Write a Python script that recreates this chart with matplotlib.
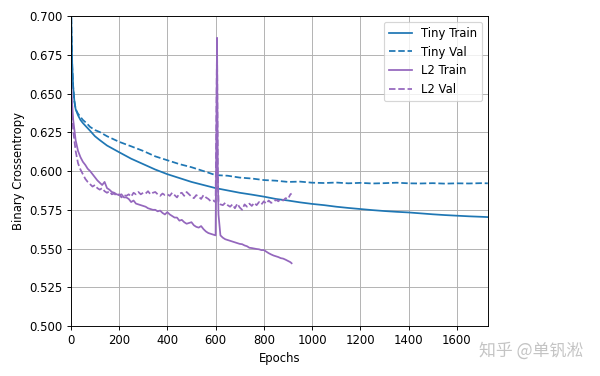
"""Tiny vs L2-regularised model: binary crossentropy over training epochs."""

import matplotlib

matplotlib.use("Agg")
import matplotlib.pyplot as plt  # noqa: E402

# Tiny model (blue)
tiny_epochs = [0, 3, 6, 10, 15, 20, 30, 40, 50, 65, 80, 100, 120, 150, 200, 250,
               300, 350, 400, 450, 500, 550, 600, 650, 700, 750, 800, 850, 900,
               950, 1000, 1050, 1100, 1150, 1200, 1250, 1300, 1350, 1400, 1450,
               1500, 1550, 1600, 1650, 1700, 1728]
tiny_train = [0.720, 0.690, 0.668, 0.654, 0.645, 0.640, 0.636, 0.633, 0.631, 0.6285,
              0.626, 0.6225, 0.620, 0.6165, 0.6122, 0.608, 0.6045, 0.601, 0.598,
              0.5955, 0.593, 0.591, 0.589, 0.5875, 0.586, 0.5848, 0.5835, 0.582,
              0.581, 0.5798, 0.5788, 0.578, 0.577, 0.5762, 0.5755, 0.5748, 0.5742,
              0.5737, 0.5733, 0.5727, 0.5721, 0.5716, 0.5712, 0.5708, 0.5705, 0.5703]
tiny_val = [0.720, 0.690, 0.668, 0.654, 0.645, 0.640, 0.637, 0.635, 0.633, 0.631,
            0.6285, 0.6265, 0.6252, 0.6225, 0.6189, 0.616, 0.613, 0.6095, 0.607,
            0.6045, 0.6025, 0.600, 0.5974, 0.597, 0.5958, 0.5952, 0.5942, 0.5938,
            0.593, 0.5932, 0.5925, 0.5923, 0.5926, 0.5921, 0.5924, 0.592, 0.5922,
            0.5925, 0.5921, 0.592, 0.5922, 0.5919, 0.5921, 0.592, 0.5922, 0.5921]

# L2 model (purple)
l2_epochs = [0, 5, 10, 20, 30, 40, 50, 60, 70, 80, 90, 100, 110, 120, 130, 140,
             150, 160, 170, 180, 190, 200, 210, 220, 230, 240, 250, 260, 270, 280,
             290, 300, 310, 320, 330, 340, 350, 360, 370, 380, 390, 400, 410, 420,
             430, 440, 450, 460, 470, 480, 490, 500, 510, 520, 530, 540, 550, 560,
             570, 580, 590, 600, 603, 606, 609, 612, 620, 630, 640, 650, 660, 670,
             680, 690, 700, 710, 720, 730, 740, 750, 760, 770, 780, 790, 800, 810,
             820, 830, 840, 850, 860, 870, 880, 890, 900, 910, 915]
l2_train = [0.662, 0.645, 0.633, 0.620, 0.613, 0.609, 0.606, 0.604, 0.6015, 0.600,
            0.598, 0.596, 0.594, 0.5925, 0.591, 0.593, 0.589, 0.588, 0.5865, 0.586,
            0.585, 0.5845, 0.585, 0.583, 0.583, 0.582, 0.580, 0.581, 0.579, 0.5785,
            0.578, 0.5775, 0.577, 0.576, 0.5755, 0.575, 0.575, 0.574, 0.5745, 0.573,
            0.572, 0.5735, 0.572, 0.571, 0.570, 0.570, 0.568, 0.5685, 0.567, 0.566,
            0.5665, 0.567, 0.565, 0.564, 0.5635, 0.5645, 0.5625, 0.561, 0.560,
            0.5595, 0.559, 0.5585, 0.620, 0.686, 0.600, 0.572, 0.5585, 0.557, 0.556,
            0.5555, 0.555, 0.5545, 0.554, 0.5535, 0.553, 0.5528, 0.552, 0.5515,
            0.5505, 0.5503, 0.550, 0.5497, 0.5495, 0.549, 0.549, 0.548, 0.547,
            0.5462, 0.5455, 0.545, 0.5445, 0.5438, 0.5435, 0.5428, 0.542, 0.5412,
            0.5405]
l2_val = [0.655, 0.638, 0.626, 0.613, 0.605, 0.601, 0.598, 0.595, 0.593, 0.5915,
          0.590, 0.591, 0.589, 0.588, 0.589, 0.587, 0.586, 0.587, 0.585, 0.5855,
          0.584, 0.585, 0.583, 0.5845, 0.584, 0.585, 0.5835, 0.586, 0.585, 0.5865,
          0.585, 0.586, 0.5855, 0.587, 0.585, 0.586, 0.5865, 0.585, 0.584, 0.5855,
          0.5845, 0.585, 0.584, 0.586, 0.5845, 0.583, 0.5855, 0.586, 0.584, 0.5865,
          0.585, 0.5835, 0.5825, 0.5845, 0.5835, 0.582, 0.5845, 0.583, 0.582,
          0.5805, 0.581, 0.580, 0.630, 0.683, 0.600, 0.580, 0.5785, 0.578, 0.5795,
          0.578, 0.577, 0.5785, 0.576, 0.579, 0.5765, 0.575, 0.5785, 0.577, 0.579,
          0.5775, 0.5795, 0.578, 0.580, 0.5785, 0.5805, 0.579, 0.581, 0.5795,
          0.580, 0.5815, 0.5805, 0.582, 0.581, 0.5825, 0.582, 0.585, 0.5855]

y_ticks = [0.500, 0.525, 0.550, 0.575, 0.600, 0.625, 0.650, 0.675, 0.700]

# the original was rendered a bit smaller than default, so use a lower dpi
DPI = 84
fig = plt.figure(figsize=(600 / DPI, 376 / DPI), dpi=DPI)
ax = fig.add_axes([0.118, 0.133, 0.695, 0.824])

ax.plot(tiny_epochs, tiny_train, color="#1f77b4", lw=1.5, label="Tiny Train")
ax.plot(tiny_epochs, tiny_val, color="#1f77b4", lw=1.5, ls="--", label="Tiny Val")
ax.plot(l2_epochs, l2_train, color="#9467bd", lw=1.5, label="L2 Train")
ax.plot(l2_epochs, l2_val, color="#9467bd", lw=1.5, ls="--", label="L2 Val")

ax.set_xlim(0, 1728)
ax.set_ylim(0.5, 0.7)
ax.set_yticks(y_ticks)
ax.set_yticklabels([f"{t:.3f}" for t in y_ticks])
ax.set_xticks(range(0, 1700, 200))
ax.grid(True)
ax.set_xlabel("Epochs")
ax.set_ylabel("Binary Crossentropy")
ax.legend(loc="upper right")

# watermark in the corner
fig.text(0.972, 0.068, "知乎 @单钒淞", ha="right", va="center", fontsize=14.5,
         color="#c4c4c4", family=["Noto Sans CJK SC", "DejaVu Sans"])

fig.savefig("out.png", dpi=DPI)
